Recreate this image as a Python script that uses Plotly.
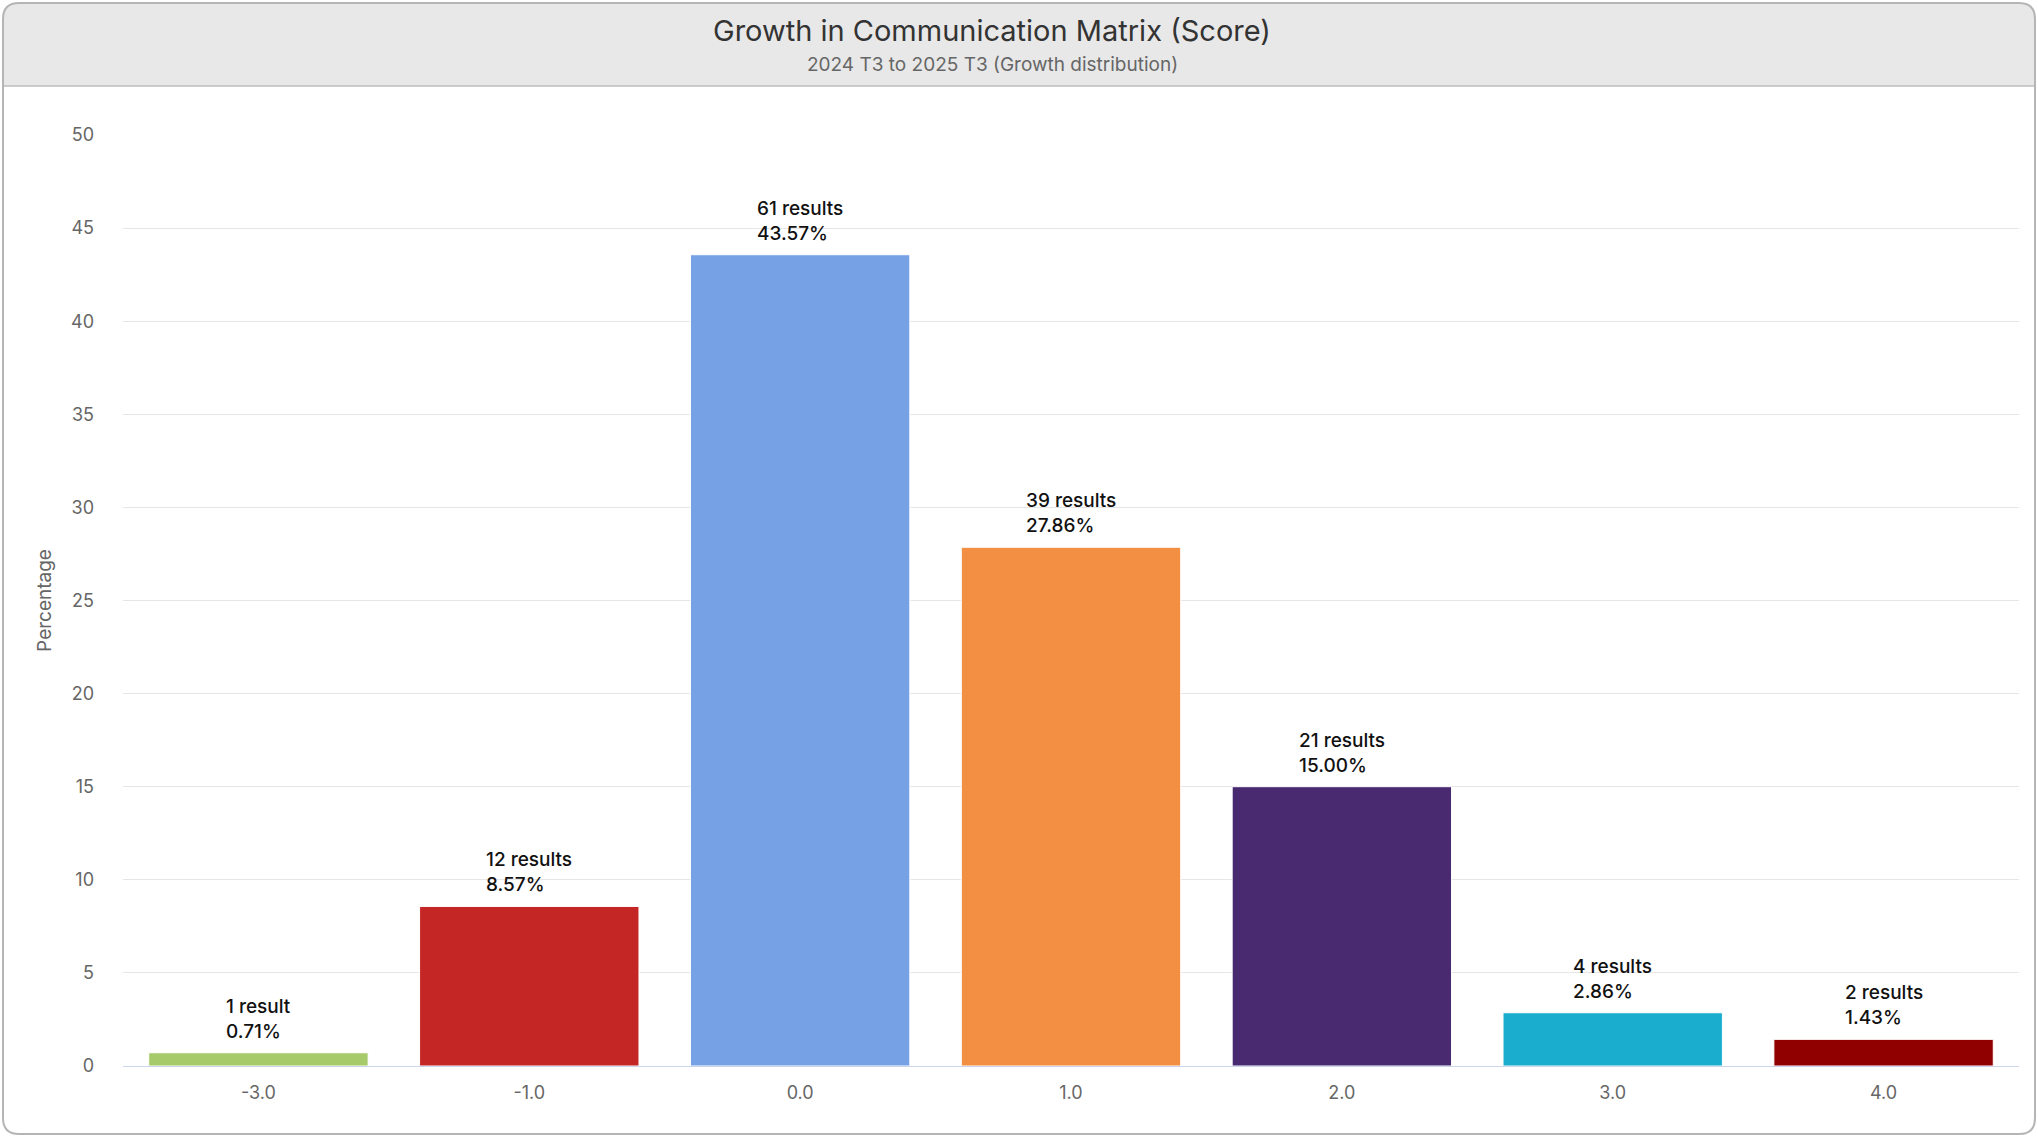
import plotly.graph_objects as go

# ---- data ----
categories = ["-3.0", "-1.0", "0.0", "1.0", "2.0", "3.0", "4.0"]
percentages = [0.71, 8.57, 43.57, 27.86, 15.00, 2.86, 1.43]
counts = [1, 12, 61, 39, 21, 4, 2]
colors = ["#a6c96a", "#c42525", "#77a1e5", "#f28f43", "#492970", "#1aadce", "#910000"]
y_ticks = [0, 5, 10, 15, 20, 25, 30, 35, 40, 45, 50]

title_text = "Growth in Communication Matrix (Score)"
subtitle_text = "2024 T3 to 2025 T3 (Growth distribution)"

# ---- geometry ----
W, H = 2038, 1136
ML, MR, MT, MB = 123, 19, 135, 70
PW = W - ML - MR
PH = H - MT - MB

def px(x):
    return (x - ML) / PW

def py(y):
    return (H - MB - y) / PH

FONT = "Inter, Roboto, 'Noto Sans', sans-serif"

fig = go.Figure()
fig.add_trace(go.Bar(
    x=categories,
    y=percentages,
    marker=dict(color=colors, line=dict(color="#ffffff", width=1)),
    hoverinfo="skip",
    showlegend=False,
))

annotations = []
for i, (p, n) in enumerate(zip(percentages, counts)):
    label = f"{n} result" if n == 1 else f"{n} results"
    annotations.append(dict(
        x=i, y=p, xref="x", yref="y",
        text=f"{label}<br>{p:.2f}%",
        showarrow=False, xanchor="center", yanchor="bottom", align="left",
        yshift=8,
        font=dict(family=FONT, size=19, color="#111111", weight=500),
    ))

# title and subtitle
annotations.append(dict(
    x=px(992), y=py(30), xref="paper", yref="paper",
    text=title_text, showarrow=False, xanchor="center", yanchor="middle",
    font=dict(family=FONT, size=29, color="#333333"),
))
annotations.append(dict(
    x=px(992), y=py(65), xref="paper", yref="paper",
    text=subtitle_text, showarrow=False, xanchor="center", yanchor="middle",
    font=dict(family=FONT, size=19, color="#666666"),
))

# card shapes
r = 16
x0, x1, y0, y1 = 3, 2035, 3, 1134
hb = 86

def P(x, y):
    return f"{px(x):.6f},{py(y):.6f}"

card_path = (
    f"M{P(x0 + r, y0)} L{P(x1 - r, y0)} Q{P(x1, y0)} {P(x1, y0 + r)} "
    f"L{P(x1, y1 - r)} Q{P(x1, y1)} {P(x1 - r, y1)} "
    f"L{P(x0 + r, y1)} Q{P(x0, y1)} {P(x0, y1 - r)} "
    f"L{P(x0, y0 + r)} Q{P(x0, y0)} {P(x0 + r, y0)} Z"
)
header_path = (
    f"M{P(x0 + r, y0)} L{P(x1 - r, y0)} Q{P(x1, y0)} {P(x1, y0 + r)} "
    f"L{P(x1, hb)} L{P(x0, hb)} L{P(x0, y0 + r)} Q{P(x0, y0)} {P(x0 + r, y0)} Z"
)

shapes = [
    dict(type="path", path=header_path, xref="paper", yref="paper",
         fillcolor="#e8e8e8", line=dict(width=0), layer="below"),
    dict(type="line", x0=px(x0), x1=px(x1), y0=py(hb), y1=py(hb),
         xref="paper", yref="paper", line=dict(color="#bdbdbd", width=1.5), layer="below"),
    dict(type="path", path=card_path, xref="paper", yref="paper",
         fillcolor="rgba(0,0,0,0)", line=dict(color="#b5b5b5", width=2), layer="below"),
]

fig.update_layout(
    width=W, height=H,
    margin=dict(l=ML, r=MR, t=MT, b=MB, autoexpand=False),
    paper_bgcolor="#ffffff", plot_bgcolor="#ffffff",
    bargap=0.19,
    font=dict(family=FONT, color="#666666"),
    annotations=annotations,
    shapes=shapes,
    xaxis=dict(
        type="category", categoryorder="array", categoryarray=categories,
        range=[-0.5, len(categories) - 0.5],
        showgrid=False, showline=True, linecolor="#ccd6eb", linewidth=1,
        ticks="", ticklabelstandoff=10,
        tickfont=dict(family=FONT, size=18, color="#666666"),
        zeroline=False, fixedrange=True,
    ),
    yaxis=dict(
        range=[0, 50], tickvals=y_ticks,
        showgrid=True, gridcolor="#e6e6e6", gridwidth=1,
        showline=False, zeroline=False, ticks="",
        ticklabelstandoff=28,
        tickfont=dict(family=FONT, size=18, color="#666666"),
        title=dict(text="Percentage", standoff=14,
                   font=dict(family=FONT, size=19, color="#666666")),
        fixedrange=True,
    ),
)

fig.write_html("out.html")
